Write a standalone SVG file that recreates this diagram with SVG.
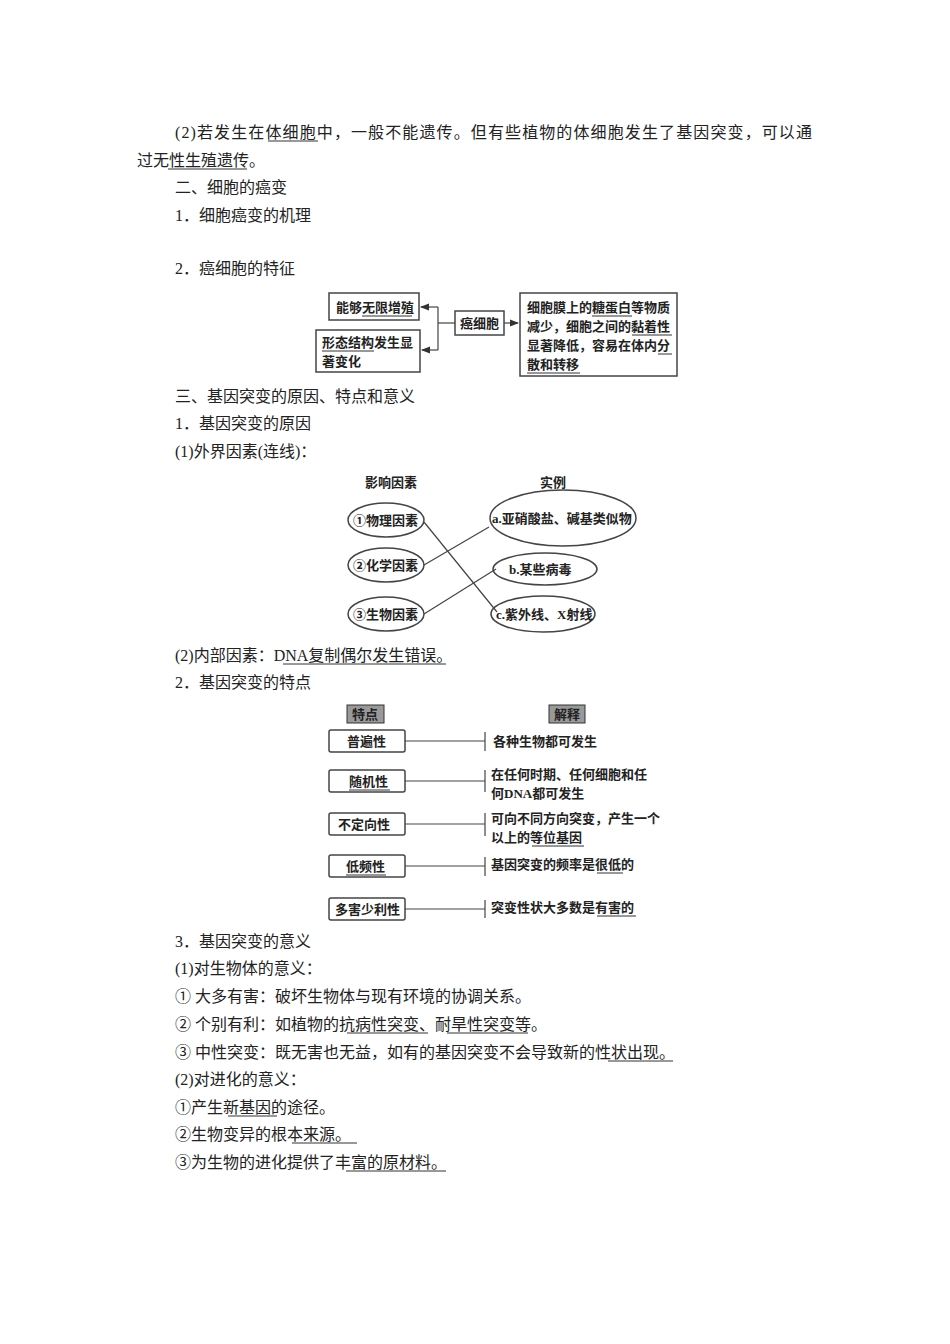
<svg xmlns="http://www.w3.org/2000/svg" width="950" height="1344" viewBox="0 0 950 1344">
<style>
text{font-family:"Liberation Serif","Noto Sans CJK SC",serif;fill:#222}
.b{font-size:16px}
.s{font-size:13px;font-weight:bold}
.u{stroke:#333;stroke-width:1}
.bx{fill:#fff;stroke:#444;stroke-width:1.5}
.ln{stroke:#444;stroke-width:1.2;fill:none}
.hd{fill:#999;stroke:#333;stroke-width:1}
</style>
<defs><marker id="a" markerWidth="8" markerHeight="6" refX="7" refY="3" orient="auto"><path d="M0,0L8,3L0,6z" fill="#333"/></marker></defs>
<rect width="950" height="1344" fill="#fff"/>
<g id="body">
<text class="b" x="175" y="138" textLength="637" lengthAdjust="spacing">(2)若发生在体细胞中，一般不能遗传。但有些植物的体细胞发生了基因突变，可以通</text>
<line class="u" x1="268" y1="141" x2="318" y2="141"/>
<text class="b" x="137" y="166">过无性生殖遗传。</text>
<line class="u" x1="168" y1="169" x2="247" y2="169"/>
<text class="b" x="175" y="193">二、细胞的癌变</text>
<text class="b" x="175" y="221">1．细胞癌变的机理</text>
<text class="b" x="175" y="274">2．癌细胞的特征</text>
<text class="b" x="175" y="402">三、基因突变的原因、特点和意义</text>
<text class="b" x="175" y="429">1．基因突变的原因</text>
<text class="b" x="175" y="457">(1)外界因素(连线)：</text>
<text class="b" x="175" y="661">(2)内部因素：DNA复制偶尔发生错误。</text>
<line class="u" x1="283" y1="664" x2="446" y2="664"/>
<text class="b" x="175" y="688">2．基因突变的特点</text>
<text class="b" x="175" y="947">3．基因突变的意义</text>
<text class="b" x="175" y="974">(1)对生物体的意义：</text>
<text class="b" x="175" y="1002">① 大多有害：破坏生物体与现有环境的协调关系。</text>
<text class="b" x="175" y="1030">② 个别有利：如植物的抗病性突变、耐旱性突变等。</text>
<line class="u" x1="347" y1="1033" x2="428" y2="1033"/>
<line class="u" x1="447" y1="1033" x2="528" y2="1033"/>
<text class="b" x="175" y="1058">③ 中性突变：既无害也无益，如有的基因突变不会导致新的性状出现。</text>
<line class="u" x1="608" y1="1061" x2="673" y2="1061"/>
<text class="b" x="175" y="1085">(2)对进化的意义：</text>
<text class="b" x="175" y="1113">①产生新基因的途径。</text>
<line class="u" x1="228" y1="1116" x2="277" y2="1116"/>
<text class="b" x="175" y="1140">②生物变异的根本来源。</text>
<line class="u" x1="292" y1="1143" x2="357" y2="1143"/>
<text class="b" x="175" y="1168">③为生物的进化提供了丰富的原材料。</text>
<line class="u" x1="346" y1="1171" x2="446" y2="1171"/>
</g>
<g id="cancer">
<g id="n1"><rect class="bx" x="329" y="293" width="90" height="27"/><text class="s" x="336" y="312">能够无限增殖</text><line class="u" x1="362" y1="316" x2="412" y2="316"/></g>
<g id="n2"><rect class="bx" x="316" y="330" width="104" height="42"/><text class="s" x="322" y="347">形态结构发生显</text><text class="s" x="322" y="366">著变化</text><line class="u" x1="322" y1="351" x2="374" y2="351"/></g>
<g id="n3"><rect class="bx" x="455" y="311" width="49" height="24"/><text class="s" x="460" y="328">癌细胞</text></g>
<g id="n4"><rect class="bx" x="520" y="293" width="157" height="83"/>
<text class="s" x="527" y="312">细胞膜上的糖蛋白等物质</text>
<text class="s" x="527" y="331">减少，细胞之间的黏着性</text>
<text class="s" x="527" y="350">显著降低，容易在体内分</text>
<text class="s" x="527" y="369">散和转移</text>
<line class="u" x1="592" y1="316" x2="632" y2="316"/><line class="u" x1="632" y1="335" x2="672" y2="335"/><line class="u" x1="658" y1="354" x2="672" y2="354"/><line class="u" x1="527" y1="373" x2="580" y2="373"/></g>
</g>
<g id="factors">
<text class="s" x="365" y="487">影响因素</text><text class="s" x="540" y="487">实例</text>
<g id="f1"><ellipse class="bx" cx="386" cy="520" rx="38" ry="17"/><text class="s" x="353" y="525">①物理因素</text></g>
<g id="f2"><ellipse class="bx" cx="386" cy="565" rx="38" ry="17"/><text class="s" x="353" y="570">②化学因素</text></g>
<g id="f3"><ellipse class="bx" cx="386" cy="614" rx="38" ry="17"/><text class="s" x="353" y="619">③生物因素</text></g>
<g id="ea"><ellipse class="bx" cx="563" cy="518" rx="73" ry="28"/><text class="s" x="492" y="523">a.亚硝酸盐、碱基类似物</text></g>
<g id="eb"><ellipse class="bx" cx="545" cy="569" rx="52" ry="16"/><text class="s" x="509" y="574">b.某些病毒</text></g>
<g id="ec"><ellipse class="bx" cx="543" cy="614" rx="52" ry="18"/><text class="s" x="496" y="619">c.紫外线、X射线</text></g>
</g>
<g id="chars">
<g id="h1"><rect class="hd" x="347" y="705" width="37" height="18"/><text class="s" x="352" y="719">特点</text></g>
<g id="h2"><rect class="hd" x="549" y="705" width="36" height="18"/><text class="s" x="554" y="719">解释</text></g>
<g id="c1"><rect class="bx" x="329" y="730" width="76" height="22" rx="2"/><text class="s" x="347" y="746">普遍性</text><text class="s" x="493" y="746">各种生物都可发生</text></g>
<g id="c2"><rect class="bx" x="329" y="770" width="76" height="22" rx="2"/><text class="s" x="349" y="786">随机性</text><line class="u" x1="349" y1="790" x2="390" y2="790"/><text class="s" x="491" y="779">在任何时期、任何细胞和任</text><text class="s" x="491" y="798">何DNA都可发生</text></g>
<g id="c3"><rect class="bx" x="329" y="813" width="76" height="22" rx="2"/><text class="s" x="338" y="829">不定向性</text><text class="s" x="491" y="823">可向不同方向突变，产生一个</text><text class="s" x="491" y="842">以上的等位基因</text><line class="u" x1="532" y1="846" x2="584" y2="846"/></g>
<g id="c4"><rect class="bx" x="329" y="855" width="76" height="22" rx="2"/><text class="s" x="346" y="871">低频性</text><line class="u" x1="346" y1="875" x2="386" y2="875"/><text class="s" x="491" y="869">基因突变的频率是很低的</text><line class="u" x1="597" y1="873" x2="623" y2="873"/></g>
<g id="c5"><rect class="bx" x="329" y="898" width="76" height="22" rx="2"/><text class="s" x="335" y="914">多害少利性</text><text class="s" x="491" y="912">突变性状大多数是有害的</text><line class="u" x1="597" y1="916" x2="636" y2="916"/></g>
</g>
<g id="connectors">
<path class="ln" d="M455,323H438"/><path class="ln" d="M438,307V350"/>
<path class="ln" d="M438,307H421" marker-end="url(#a)"/><path class="ln" d="M438,350H422" marker-end="url(#a)"/>
<path class="ln" d="M504,323H518" marker-end="url(#a)"/>
<path class="ln" d="M424,522L497,612"/><path class="ln" d="M424,565L489,527"/><path class="ln" d="M424,614L496,569"/>
<path class="ln" d="M405,741H485M485,732V751"/>
<path class="ln" d="M405,781H485M485,770V792"/>
<path class="ln" d="M405,824H485M485,813V836"/>
<path class="ln" d="M405,866H485M485,857V876"/>
<path class="ln" d="M405,909H485M485,900V918"/>
</g>
</svg>
